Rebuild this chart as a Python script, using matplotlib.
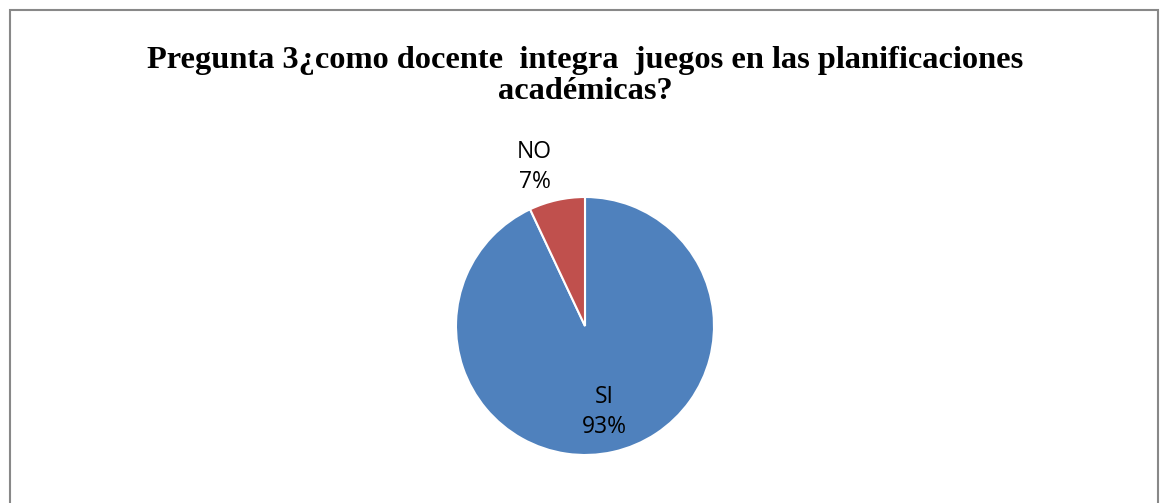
import matplotlib
matplotlib.use("Agg")
import matplotlib.pyplot as plt
from matplotlib.patches import Rectangle
import numpy as np

categories = ["SI", "NO"]
values = [93, 7]
pct_labels = ["93%", "7%"]
colors = ["#4F81BD", "#C0504D"]
title = "Pregunta 3¿como docente  integra  juegos en las planificaciones\nacadémicas?"

W, H = 1160, 503
fig = plt.figure(figsize=(W / 100, H / 100), dpi=100)
fig.patch.set_facecolor("white")

# border
fig.patches.append(Rectangle((9.5 / W, -0.01), (1158 - 9.5) / W, (H - 10.5) / H + 0.01,
                             transform=fig.transFigure, fill=False,
                             edgecolor="#888888", linewidth=1.5))

cx, cy, r = 585, 503 - 326, 129
ax = fig.add_axes([(cx - r) / W, (cy - r) / H, 2 * r / W, 2 * r / H])
wedges, _ = ax.pie(values, colors=colors, startangle=90, counterclock=False,
                   wedgeprops=dict(edgecolor="white", linewidth=1.5), radius=1)
ax.set_xlim(-1, 1)
ax.set_ylim(-1, 1)
ax.set_aspect("equal")

dists = [0.685, 1.29]
angle_offset = [0, 5]
for w, cat, pl, d, off in zip(wedges, categories, pct_labels, dists, angle_offset):
    ang = np.deg2rad((w.theta1 + w.theta2) / 2 + off)
    ax.text(d * np.cos(ang), d * np.sin(ang), f"{cat}\n{pl}", ha="center", va="center",
            fontsize=16.5, family="Open Sans", linespacing=1.32, color="#000000")

fig.text(585 / W, 1 - 76 / H, title, ha="center", va="center",
         fontsize=23.3, fontweight="bold", family="Liberation Serif", linespacing=1.12)

fig.savefig("out.png", dpi=100)
